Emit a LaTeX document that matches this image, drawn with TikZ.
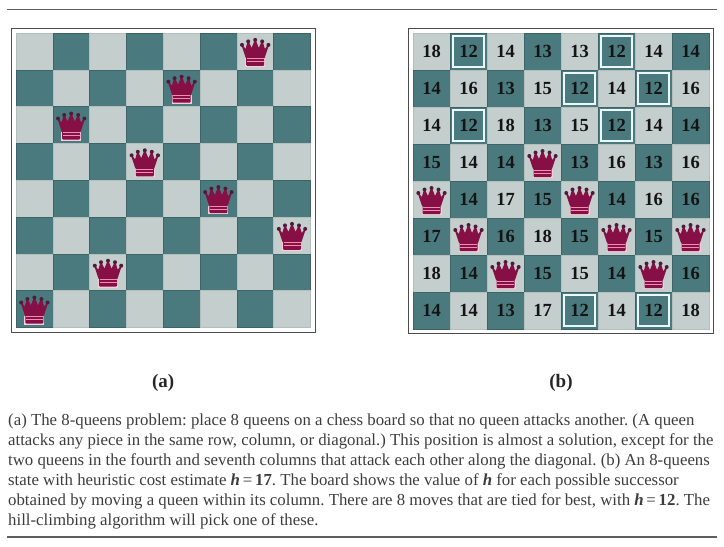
\documentclass[tikz,border=0pt]{standalone}
\usepackage{fontspec}
\setmainfont{Liberation Serif}
\usepackage{tikz}
\usetikzlibrary{positioning, fit}
\definecolor{celllight}{HTML}{C4CECC}
\definecolor{celldark}{HTML}{4B7A7E}
\definecolor{queenbody}{HTML}{860F45}
\definecolor{queentip}{HTML}{4E1B3C}
\definecolor{queenband}{HTML}{EE8FB0}
\definecolor{rulegray}{HTML}{5E5E5E}
\definecolor{captiongray}{HTML}{3C3C3C}
\tikzset{
	cell0/.style={rectangle, fill=celllight, draw=celllight!92!black, line width=.4pt},
	cell1/.style={rectangle, fill=celldark, draw=celldark!82!black, line width=.4pt},
	queen/.pic={
		\fill[white!55!queenband] (-10,-15.5) rectangle (10,-7);
		\draw[queenbody, fill=queenbody, line width=1.2pt, line join=round] (-9,-6) -- (-13,6) -- (-9.5,1) -- (-7,9.5) -- (-3.5,2) -- (0,11) -- (3.5,2) -- (7,9.5) -- (9.5,1) -- (13,6) -- (9,-6) -- cycle;
		\fill[queenbody, rounded corners=1pt] (-9,-14.5) rectangle (9,-5);
		\foreach \px/\py in {-13.2/6.5,-7/10,0/11.5,7/10,13.2/6.5}
			\fill[queentip] (\px,\py) circle (2);
		\draw[queenband, line width=1pt] (-8.5,-7.5) -- (8.5,-7.5);
		\draw[queenband, line width=1pt] (-8.5,-10.5) -- (8.5,-10.5);
	}
}
\begin{document}
\begin{tikzpicture}
	[
	x=1pt, y=1pt,
	bestbox/.style={rectangle, draw=white!92!cyan, line width=2pt, minimum size=31pt, inner sep=0pt},
	boardframe/.style={rectangle, draw=black!70, line width=1.3pt, inner sep=4.6pt},
	sublabel/.style={font=\fontsize{19}{20}\selectfont\bfseries, inner sep=0pt, text=black!85}
	]
	\useasboundingbox (0,0) rectangle (724,-547);
	\coordinate (ruletopl) at (7,-9.5);
	\coordinate (ruletopr) at (717,-9.5);
	\coordinate (rulebotl) at (7,-537);
	\coordinate (rulebotr) at (717,-537);
	\draw[rulegray, line width=1pt] (ruletopl) -- (ruletopr);
	\draw[rulegray, line width=2pt] (rulebotl) -- (rulebotr);

	% left board
	\foreach \r in {1,...,8}
		\foreach \c in {1,...,8} {
			\pgfmathsetmacro{\cx}{16+36.8*(\c-.5)}
			\pgfmathsetmacro{\cy}{-33-36.8*(\r-.5)}
			\pgfmathtruncatemacro{\odd}{mod(\r+\c,2)}
			\node[cell\odd, minimum size=36.8pt, inner sep=0pt] (a-\r-\c) at (\cx,\cy) {};
		}
	\node[boardframe, fit=(a-1-1)(a-8-8)] (aframe) {};
	\foreach \r/\c in {8/1,3/2,7/3,4/4,2/5,5/6,1/7,6/8}
		\pic at (a-\r-\c) {queen};

	% right board
	\foreach \r/\vals in {
		1/{18,12,14,13,13,12,14,14},
		2/{14,16,13,15,12,14,12,16},
		3/{14,12,18,13,15,12,14,14},
		4/{15,14,14,,13,16,13,16},
		5/{,14,17,15,,14,16,16},
		6/{17,,16,18,15,,15,},
		7/{18,14,,15,15,14,,16},
		8/{14,14,13,17,12,14,12,18}}
		\foreach \v [count=\c] in \vals {
			\pgfmathsetmacro{\cx}{413+37*(\c-.5)}
			\pgfmathsetmacro{\cy}{-33-37*(\r-.5)}
			\pgfmathtruncatemacro{\odd}{mod(\r+\c,2)}
			\node[cell\odd, minimum size=37pt, inner sep=0pt, font=\fontsize{18.5}{18}\selectfont\bfseries, text=black!92] (b-\r-\c) at (\cx,\cy) {\v};
		}
	\node[boardframe, fit=(b-1-1)(b-8-8)] (bframe) {};
	\foreach \r/\c in {1/2,1/6,2/5,2/7,3/2,3/6,8/5,8/7}
		\node[bestbox] (best-\r-\c) at (b-\r-\c) {};
	\foreach \r/\c in {4/4,5/1,5/5,6/2,6/6,6/8,7/3,7/7}
		\pic at (b-\r-\c) {queen};

	\node[sublabel, below=41pt of aframe] (alabel) {(a)};
	\node[sublabel] (blabel) at (bframe |- alabel) {(b)};

	\node[anchor=north west, inner sep=0pt, align=left, text=captiongray,
		font=\fontsize{16.8}{20}\selectfont\frenchspacing] (caption) at (8,-413.5) {%
		(a) The 8-queens problem: place 8 queens on a chess board so that no queen attacks another. (A queen\\
		attacks any piece in the same row, column, or diagonal.) This position is almost a solution, except for the\\
		two queens in the fourth and seventh columns that attack each other along the diagonal. (b) An 8-queens\\
		state with heuristic cost estimate {\bfseries\itshape h}\,=\,{\bfseries 17}. The board shows the value of {\bfseries\itshape h} for each possible successor\\
		obtained by moving a queen within its column. There are 8 moves that are tied for best, with {\bfseries\itshape h}\,=\,{\bfseries 12}. The\\
		hill-climbing algorithm will pick one of these.};
\end{tikzpicture}
\end{document}
